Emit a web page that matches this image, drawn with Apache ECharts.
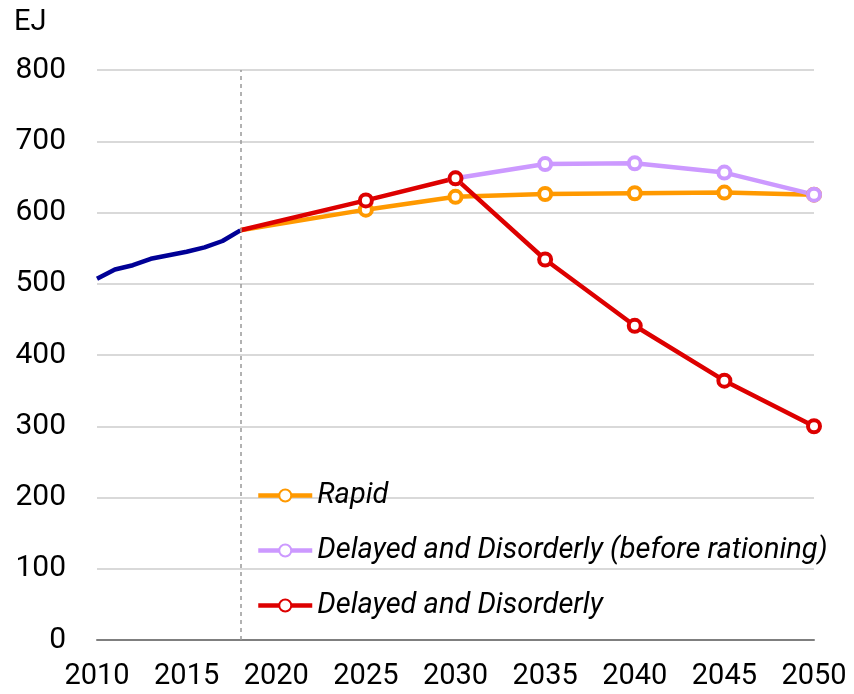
<!DOCTYPE html>
<html>
<head>
<meta charset="utf-8">
<script src="https://cdn.jsdelivr.net/npm/echarts@6/dist/echarts.min.js"></script>
<style>
  html, body { margin: 0; padding: 0; background: #fff; }
  #chart { width: 854px; height: 694px; }
</style>
</head>
<body>
<div id="chart"></div>
<script>
// Historical primary energy demand (EJ)
const histYears = [2010, 2011, 2012, 2013, 2014, 2015, 2016, 2017, 2018];
const histValues = [507, 520, 526, 535, 540, 545, 551, 560, 575];

// Scenario projections
const scenarioYears = [2018, 2025, 2030, 2035, 2040, 2045, 2050];
const rapidValues = [575, 604, 622, 626, 627, 628, 625];
const delayedYears = [2018, 2025, 2030, 2035, 2040, 2045, 2050];
const delayedValues = [575, 617, 648, 534, 441, 364, 300];
const beforeRationingYears = [2030, 2035, 2040, 2045, 2050];
const beforeRationingValues = [648, 668, 669, 656, 625];

const xTicks = [2010, 2015, 2020, 2025, 2030, 2035, 2040, 2045, 2050];
const yTicks = [0, 100, 200, 300, 400, 500, 600, 700, 800];
const projectionStart = 2018;

const names = {
  rapid: 'Rapid',
  before: 'Delayed and Disorderly (before rationing)',
  delayed: 'Delayed and Disorderly'
};
const colors = {
  hist: '#000096',
  rapid: '#FF9900',
  before: '#CC99FF',
  delayed: '#DD0000'
};

function pairs(xs, ys, hideFirst) {
  return xs.map((x, i) => {
    const item = { value: [x, ys[i]] };
    if (hideFirst && x === projectionStart) item.symbol = 'none';
    return item;
  });
}

function scenario(name, color, xs, ys, hideFirst) {
  return {
    name: name,
    type: 'line',
    data: pairs(xs, ys, hideFirst),
    symbol: 'circle',
    symbolSize: 12,
    showAllSymbol: true,
    lineStyle: { color: color, width: 4.5 },
    itemStyle: { color: '#ffffff', borderColor: color, borderWidth: 4 },
    emphasis: { disabled: true },
    animation: false
  };
}

const chart = echarts.init(document.getElementById('chart'), null, { renderer: 'canvas' });
const font = 'Roboto, "Liberation Sans", sans-serif';

chart.setOption({
  backgroundColor: '#ffffff',
  animation: false,
  grid: { left: 97, right: 40, top: 70, bottom: 54 },
  graphic: [{
    type: 'text',
    left: 14,
    top: 8,
    style: { text: 'EJ', font: '29px ' + font, fill: '#000' }
  }],
  legend: {
    orient: 'vertical',
    left: 251,
    top: 476,
    itemWidth: 54,
    itemHeight: 15,
    itemGap: 26,
    data: [names.rapid, names.before, names.delayed],
    lineStyle: { width: 4.5 },
    textStyle: { fontFamily: font, fontSize: 29, fontStyle: 'italic', color: '#000' }
  },
  xAxis: {
    type: 'value',
    min: xTicks[0],
    max: xTicks[xTicks.length - 1],
    interval: 5,
    axisLine: { show: true, lineStyle: { color: '#7f7f7f', width: 2 } },
    axisTick: { show: false },
    splitLine: { show: false },
    axisLabel: {
      fontFamily: font, fontSize: 29, color: '#000', margin: 22,
      formatter: v => String(v)
    }
  },
  yAxis: {
    type: 'value',
    min: yTicks[0],
    max: yTicks[yTicks.length - 1],
    interval: 100,
    axisLine: { show: false },
    axisTick: { show: false },
    splitLine: { lineStyle: { color: '#d9d9d9', width: 2 } },
    axisLabel: { fontFamily: font, fontSize: 30, color: '#000', margin: 31 }
  },
  series: [
    {
      name: 'History',
      type: 'line',
      data: pairs(histYears, histValues, false),
      symbol: 'none',
      lineStyle: { color: colors.hist, width: 4.5 },
      emphasis: { disabled: true },
      markLine: {
        silent: true,
        symbol: 'none',
        label: { show: false },
        lineStyle: { color: '#999999', type: [4, 4], width: 1.5 },
        data: [{ xAxis: projectionStart }]
      }
    },
    scenario(names.rapid, colors.rapid, scenarioYears, rapidValues, true),
    scenario(names.before, colors.before, beforeRationingYears, beforeRationingValues, false),
    scenario(names.delayed, colors.delayed, delayedYears, delayedValues, true)
  ]
});
</script>
</body>
</html>
